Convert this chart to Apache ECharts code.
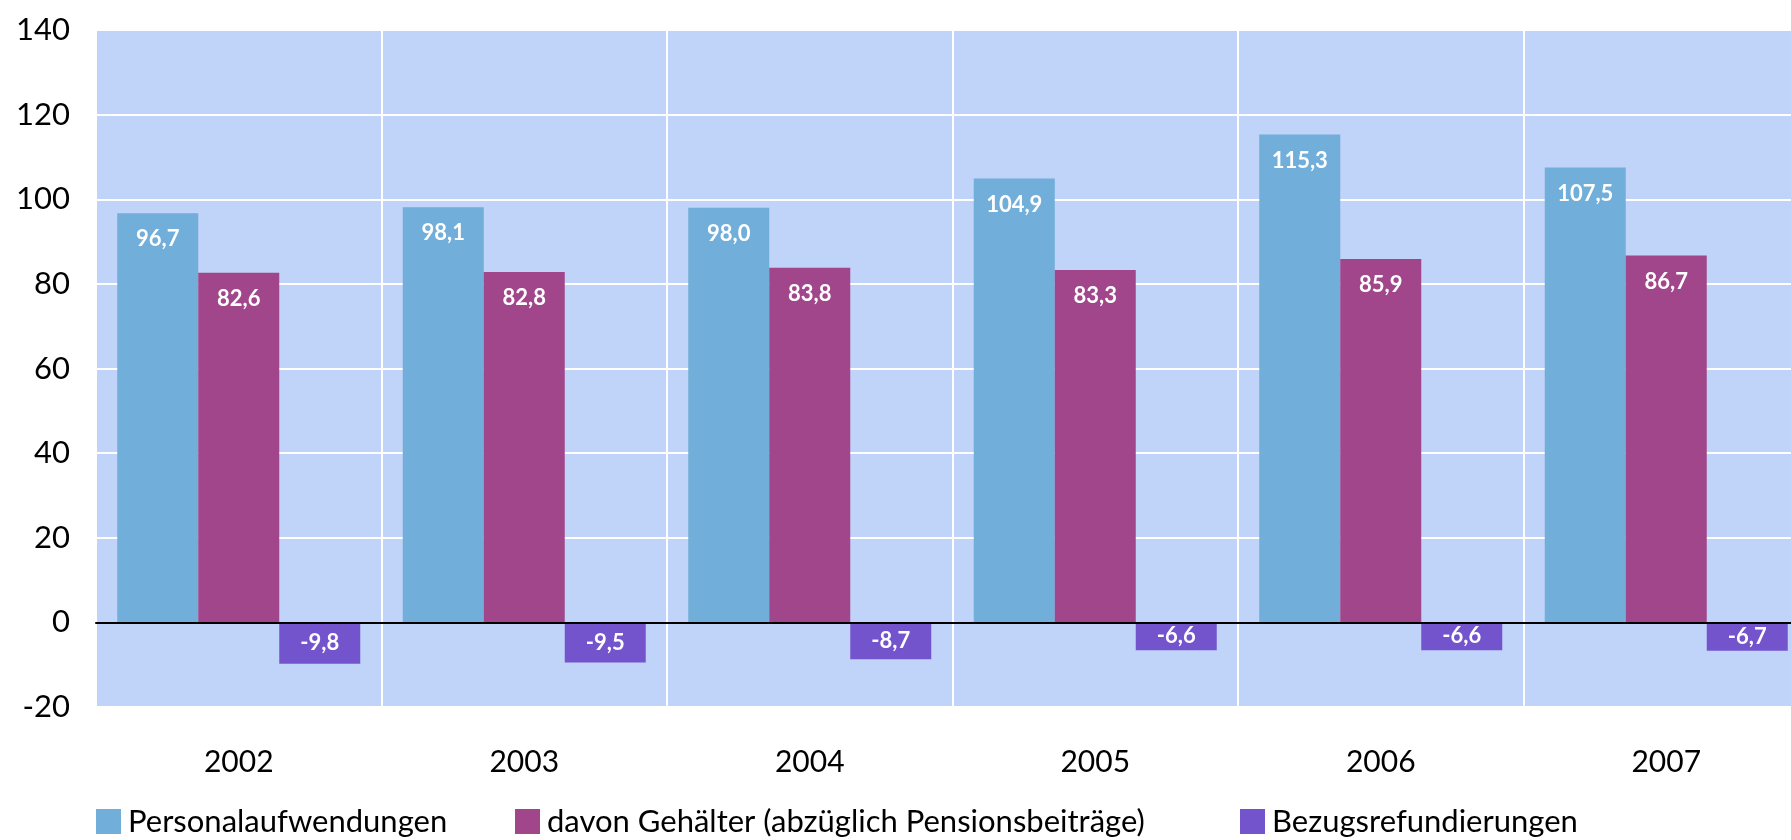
<!DOCTYPE html>
<html>
<head>
<meta charset="utf-8">
<script src="https://cdn.jsdelivr.net/npm/echarts@6/dist/echarts.min.js"></script>
<style>
html, body { margin: 0; padding: 0; background: #fff; overflow: hidden; width: 1791px; height: 840px; }
#chart { width: 1809px; height: 840px; }
</style>
</head>
<body>
<div id="chart"></div>
<script>
var years = ['2002', '2003', '2004', '2005', '2006', '2007'];
var personal = [96.7, 98.1, 98.0, 104.9, 115.3, 107.5];
var gehaelter = [82.6, 82.8, 83.8, 83.3, 85.9, 86.7];
var refund = [-9.8, -9.5, -8.7, -6.6, -6.6, -6.7];
var names = ['Personalaufwendungen', 'davon Gehälter (abzüglich Pensionsbeiträge)', 'Bezugsrefundierungen'];
var colors = ['#71AED9', '#A1468A', '#7354CC'];

var FONT = 'Lato';

function fmt(p) {
	return p.value.toFixed(1).replace('.', ',');
}

function makeBar(i, data, pos, dist) {
	return {
		name : names[i],
		type : 'bar',
		data : data,
		barWidth : 81,
		barGap : '0%',
		itemStyle : { color : colors[i] },
		label : {
			show : true,
			position : pos,
			distance : dist,
			formatter : fmt,
			color : '#fff',
			fontFamily : FONT,
			fontWeight : 'bold',
			fontSize : 22
		}
	};
}

function legendAt(i, left) {
	return {
		data : [names[i]],
		left : left,
		top : 801,
		itemWidth : 25,
		itemHeight : 25,
		itemGap : 0,
		icon : 'rect',
		textStyle : { fontFamily : FONT, fontSize : 31, color : '#000', padding : [0, 0, 0, 2] }
	};
}

// the plot runs a little past the right edge of the window, as in the original
var myChart = echarts.init(document.getElementById('chart'));
myChart.setOption({
	animation : false,
	grid : {
		left : 96,
		right : 0,
		top : 30,
		bottom : 133,
		show : true,
		backgroundColor : '#C0D3F8',
		borderWidth : 0
	},
	legend : [ legendAt(0, 91), legendAt(1, 510), legendAt(2, 1235) ],
	xAxis : {
		type : 'category',
		data : years,
		axisLine : { onZero : true, lineStyle : { color : '#000', width : 2 } },
		axisTick : { show : false },
		axisLabel : { fontFamily : FONT, fontSize : 30, color : '#000', margin : 40 },
		splitLine : { show : true, lineStyle : { color : '#fff', width : 2 } },
		z : 5
	},
	yAxis : {
		type : 'value',
		min : -20,
		max : 140,
		interval : 20,
		axisLine : { show : false },
		axisTick : { show : false },
		axisLabel : { fontFamily : FONT, fontSize : 31, color : '#000', margin : 26 },
		splitLine : { lineStyle : { color : '#fff', width : 2 } }
	},
	series : [
		makeBar(0, personal, 'insideTop', 15),
		makeBar(1, gehaelter, 'insideTop', 15),
		makeBar(2, refund, 'inside', 0)
	]
});
</script>
</body>
</html>
